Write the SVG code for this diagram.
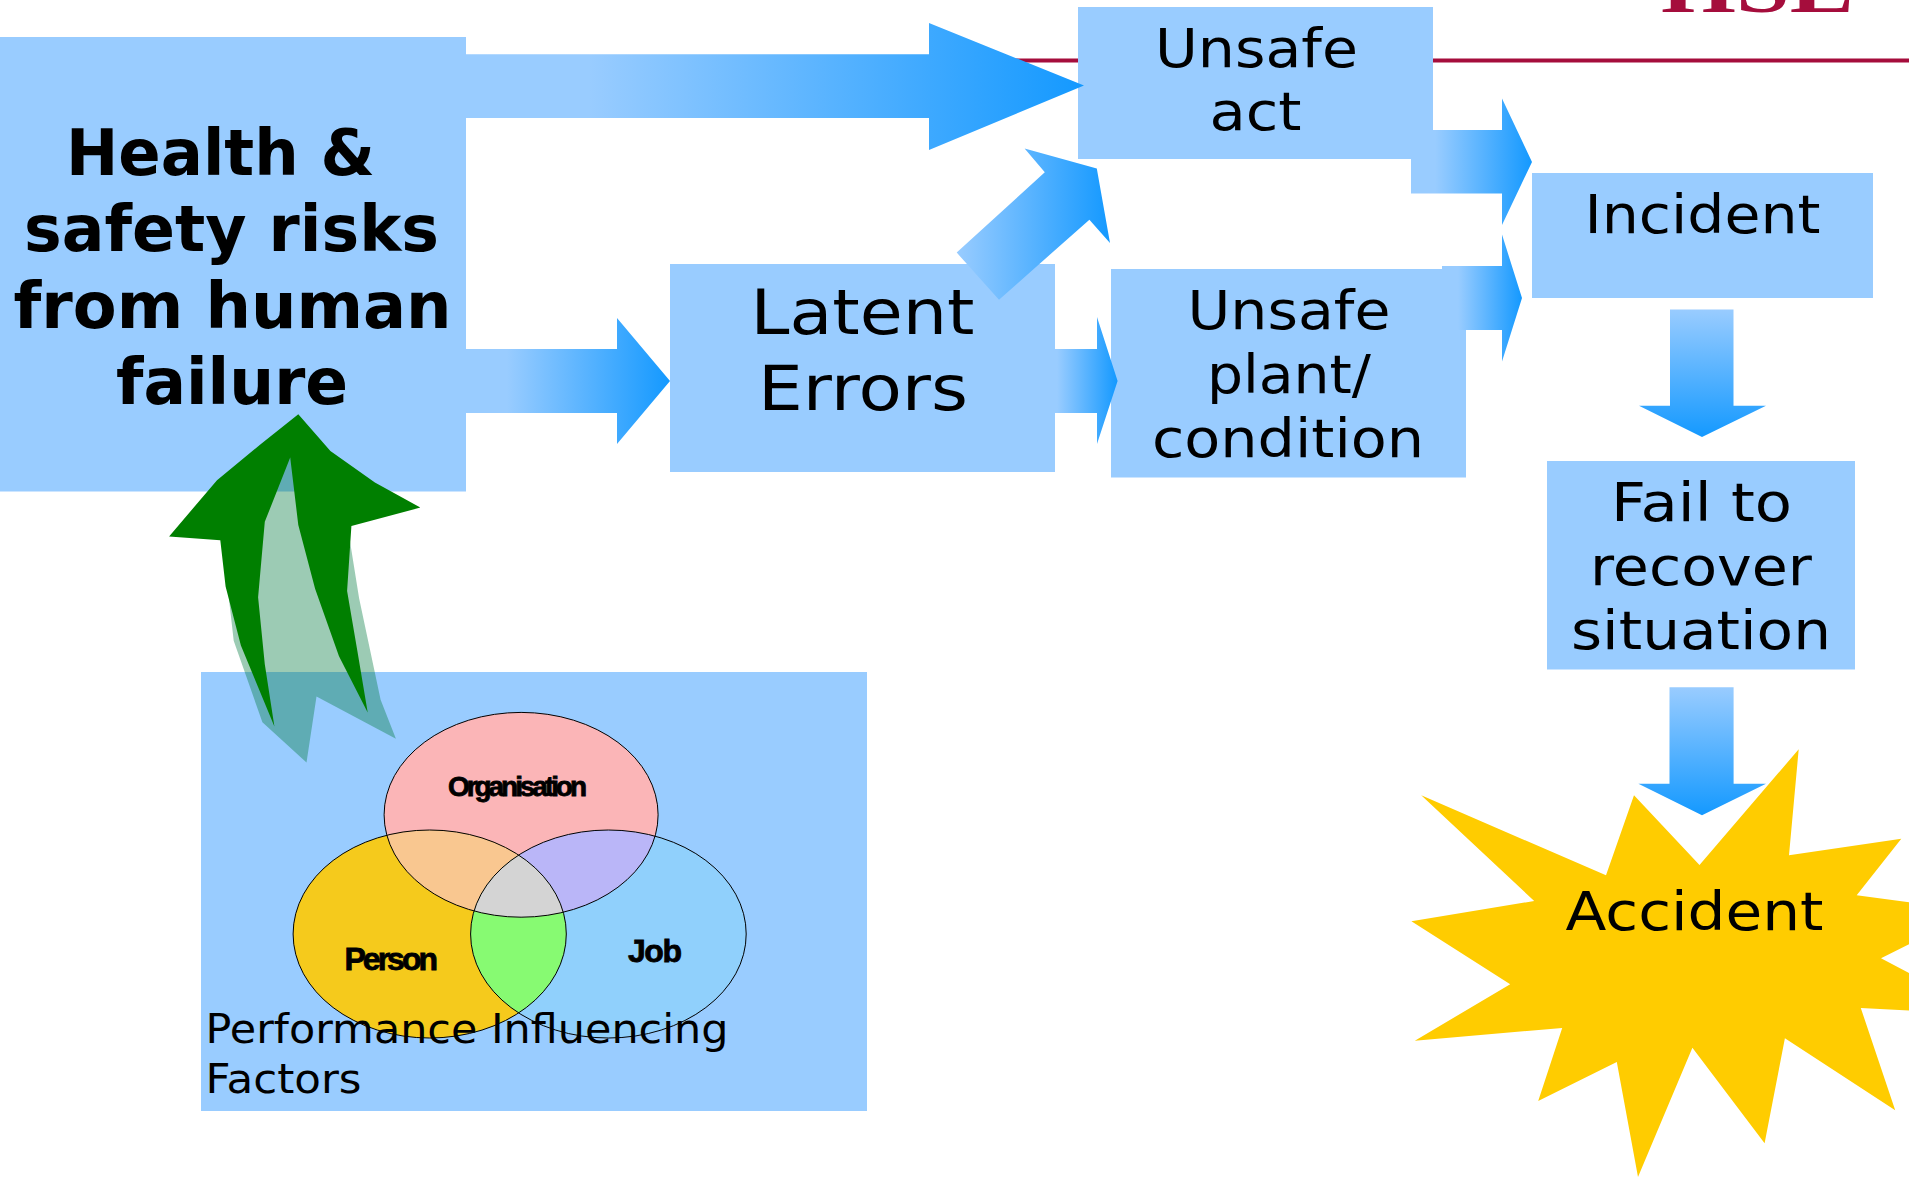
<svg xmlns="http://www.w3.org/2000/svg" width="1909" height="1177" viewBox="0 0 1909 1177">
<style>
.box{fill:#99ccff}
.t{font-family:"DejaVu Sans",Verdana,sans-serif;fill:#000}
.m{font-size:54px}
.l{font-size:62px}
.h{font-size:64px;font-weight:bold}
.p{font-size:41px}
.v{font-family:"Liberation Sans",Arial,sans-serif;font-weight:bold;fill:#000;stroke:#000;stroke-width:.8}
.o{fill:none;stroke:#000;stroke-width:1}
.ar{fill:url(#gh)}
.ad{fill:url(#gv)}
</style>
<defs>
<linearGradient id="gh" x1="0" y1="0" x2="1" y2="0"><stop offset="0" stop-color="#99ccff"/><stop offset=".2" stop-color="#99ccff"/><stop offset="1" stop-color="#1499ff"/></linearGradient>
<linearGradient id="gd" x1="0" y1="0" x2="1" y2="0"><stop offset="0" stop-color="#99ccff"/><stop offset="1" stop-color="#1499ff"/></linearGradient>
<linearGradient id="gv" x1="0" y1="0" x2="0" y2="1"><stop offset="0" stop-color="#99ccff"/><stop offset="1" stop-color="#1499ff"/></linearGradient>
<ellipse id="eo" cx="521.1" cy="814.8" rx="137" ry="102.4"/>
<ellipse id="ep" cx="429.7" cy="934" rx="136.6" ry="104"/>
<ellipse id="ej" cx="608.4" cy="934" rx="137.8" ry="104"/>
<clipPath id="co"><use href="#eo"/></clipPath>
<clipPath id="cp"><use href="#ep"/></clipPath>
</defs>
<g id="logo">
<rect x="1000" y="58.5" width="909" height="4" fill="#a50d3c"/>
<text x="1661" y="11.5" font-family="Liberation Serif,serif" font-weight="bold" font-size="70" fill="#a50d3c" textLength="193" lengthAdjust="spacingAndGlyphs">HSE</text>
</g>
<g id="node-health"><rect class="box" x="0" y="37" width="466" height="454.5"/>
<text class="t h" x="66" y="174.5" textLength="309" lengthAdjust="spacingAndGlyphs">Health &amp;</text>
<text class="t h" x="24" y="251" textLength="415" lengthAdjust="spacingAndGlyphs">safety risks</text>
<text class="t h" x="13.5" y="327.6" textLength="438" lengthAdjust="spacingAndGlyphs">from human</text>
<text class="t h" x="116" y="404" textLength="232" lengthAdjust="spacingAndGlyphs">failure</text></g>
<g id="node-latent"><rect class="box" x="670" y="264" width="385" height="208"/>
<text class="t l" x="750.5" y="333.7" textLength="224" lengthAdjust="spacingAndGlyphs">Latent</text>
<text class="t l" x="758" y="410" textLength="210" lengthAdjust="spacingAndGlyphs">Errors</text></g>
<g id="node-act"><rect class="box" x="1078" y="7" width="355" height="152"/>
<text class="t m" x="1155" y="67" textLength="203" lengthAdjust="spacingAndGlyphs">Unsafe</text>
<text class="t m" x="1209.5" y="130" textLength="92" lengthAdjust="spacingAndGlyphs">act</text></g>
<g id="node-plant"><rect class="box" x="1111" y="269" width="355" height="208.5"/>
<text class="t m" x="1187.5" y="329" textLength="203" lengthAdjust="spacingAndGlyphs">Unsafe</text>
<text class="t m" x="1207" y="393" textLength="164" lengthAdjust="spacingAndGlyphs">plant/</text>
<text class="t m" x="1152" y="456.5" textLength="272" lengthAdjust="spacingAndGlyphs">condition</text></g>
<g id="node-incident"><rect class="box" x="1532" y="173" width="341" height="125"/>
<text class="t m" x="1584.5" y="233" textLength="236" lengthAdjust="spacingAndGlyphs">Incident</text></g>
<g id="node-fail"><rect class="box" x="1547" y="461" width="308" height="208.5"/>
<text class="t m" x="1611" y="520.7" textLength="181" lengthAdjust="spacingAndGlyphs">Fail to</text>
<text class="t m" x="1590" y="584.6" textLength="222" lengthAdjust="spacingAndGlyphs">recover</text>
<text class="t m" x="1571" y="649" textLength="260" lengthAdjust="spacingAndGlyphs">situation</text></g>
<g id="node-accident">
<polygon fill="#ffcc00" points="1421.2,795.3 1606,875.3 1634,795.3 1699.5,865 1798.7,749.3 1789,855.3 1901.3,838.7 1856.7,895.3 1920,903.8 1920,938.8 1881,958.3 1920,978.9 1920,1011 1860.8,1008 1895.2,1110.3 1784.9,1038.3 1764.6,1143.3 1692.4,1047.7 1638,1177 1616.8,1062 1538.2,1101 1562.2,1028 1414.8,1040.7 1510.2,984.3 1411.4,921.3 1534.2,901"/>
<text class="t m" x="1565.5" y="930" textLength="258" lengthAdjust="spacingAndGlyphs">Accident</text></g>
<g id="node-pif"><rect class="box" x="201" y="672" width="666" height="439"/>
<use href="#eo" fill="#fbb5b7"/>
<use href="#ep" fill="#f5ca1c"/>
<use href="#ej" fill="#90d0fc"/>
<g clip-path="url(#co)"><use href="#ep" fill="#f9c790"/><use href="#ej" fill="#bab6f8"/></g>
<g clip-path="url(#cp)"><use href="#ej" fill="#87fa72"/></g>
<g clip-path="url(#co)"><g clip-path="url(#cp)"><use href="#ej" fill="#d4d4d4"/></g></g>
<use href="#eo" class="o"/><use href="#ep" class="o"/><use href="#ej" class="o"/>
<text class="v" font-size="28" x="448" y="795.5" textLength="139">Organisation</text>
<text class="v" font-size="32" x="344.5" y="969.6" textLength="93.5">Person</text>
<text class="v" font-size="32" x="628" y="961.6" textLength="54">Job</text>
<text class="t p" x="205.5" y="1042.5" textLength="523" lengthAdjust="spacingAndGlyphs">Performance Influencing</text>
<text class="t p" x="205.5" y="1093" textLength="156" lengthAdjust="spacingAndGlyphs">Factors</text></g>
<g id="connectors">
<polygon class="ar" points="466,54.3 929,54.3 929,23 1084,85.5 929,150 929,118 466,118"/>
<polygon class="ar" points="466,349 617,349 617,318 670,381 617,444 617,413 466,413"/>
<polygon class="ar" points="1042,349 1097,349 1097,317 1117.6,381 1097,444 1097,413 1042,413"/>
<polygon class="ar" points="1411,130 1502,130 1502,98.4 1532,162 1502,225 1502,193.6 1411,193.6"/>
<polygon class="ar" points="1442,266 1502,266 1502,234.6 1522,298 1502,361.6 1502,330 1442,330"/>
<polygon fill="url(#gd)" points="1024.6,148.5 1096.8,168.4 1110,243 1089.4,219.7 999,299.7 956.7,252.6 1044.8,172.2"/>
<polygon class="ad" points="1670,309.6 1733.5,309.6 1733.5,405.7 1766,405.7 1702,437 1639,405.7 1670,405.7"/>
<polygon class="ad" points="1669.5,687.3 1733.6,687.3 1733.6,783.7 1766,783.7 1702,815.3 1638.4,783.7 1669.5,783.7"/>
<polygon fill="#087d44" fill-opacity=".4" points="290.2,457.6 350,541.6 359.1,598.2 380.6,699.7 395.9,738.8 316.5,696.4 306.5,762.4 262.4,722.3 233.7,640.7 228.9,598.2 225,540 260,460"/>
<polygon fill="#007f00" points="298.3,414.2 330.4,451 374.9,482.6 420.3,507.6 351.4,526 347.1,591.1 357.2,650.1 367.7,712.4 339,656.3 315.1,588.8 298.3,525 290.2,457.6 264.8,521.8 258.1,597.3 264.8,664.3 274.4,726.6 240.9,645.4 225.6,586.4 220.3,540.2 169.1,536.4 217,480.2 260,444.8"/>
</g>
</svg>
